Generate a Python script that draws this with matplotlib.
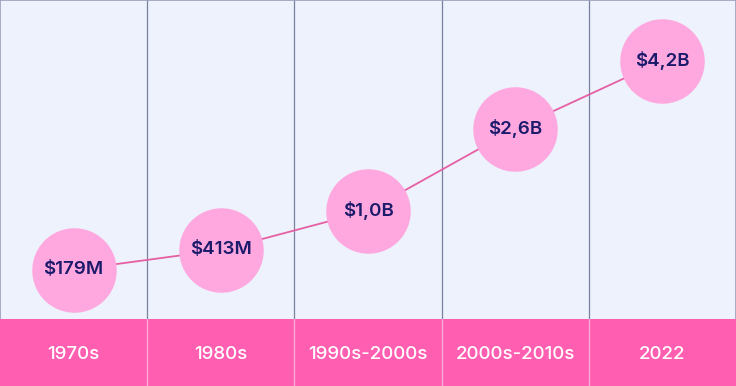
import matplotlib.pyplot as plt
import numpy as np

periodos = ["1970s", "1980s", "1990s-2000s", "2000s-2010s", "2022"]
valores = [179, 413, 1000, 2600, 4200]  # milhões de dólares
rotulos = ["$179M", "$413M", "$1,0B", "$2,6B", "$4,2B"]

fundo = "#EDF2FC"
rosa_forte = "#FF5EB1"
rosa_claro = "#FFA8DF"
azul_texto = "#1B1A6B"
linha_grade = "#7A809E"

p = 0.72
def fwd(v):
    return np.sign(v) * np.abs(v) ** p
def inv(t):
    return np.sign(t) * np.abs(t) ** (1 / p)

fig = plt.figure(figsize=(7.36, 3.86), dpi=100)
fig.patch.set_facecolor(fundo)

ax = fig.add_axes([0, 67 / 386, 1, 319 / 386])
ax.set_facecolor(fundo)
ax.set_yscale("function", functions=(fwd, inv))
ax.set_xlim(0, 5)
ax.set_ylim(-190, 5790)

x = np.arange(len(periodos)) + 0.5
ax.plot(x, valores, color="#E65FA4", lw=1.3, zorder=2)
ax.scatter(x, valores, s=3700, color=rosa_claro, zorder=3, linewidths=0)
for xi, v, r in zip(x, valores, rotulos):
    ax.text(xi, v, r, ha="center", va="center", fontsize=13.5, fontweight="semibold",
            color=azul_texto, family="Inter", zorder=4)

for xi in range(1, 5):
    ax.axvline(xi, color=linha_grade, lw=0.9, zorder=1)

ax.set_xticks([])
ax.set_yticks([])
ax.minorticks_off()
for lado in ["left", "top", "right"]:
    ax.spines[lado].set_color("#9AA0BC")
    ax.spines[lado].set_linewidth(1.2)
ax.spines["bottom"].set_visible(False)

# faixa inferior com os períodos
axb = fig.add_axes([0, 0, 1, 67 / 386])
axb.set_facecolor(rosa_forte)
axb.set_xlim(0, 5)
axb.set_ylim(0, 1)
for xi in range(1, 5):
    axb.axvline(xi, color="#FFA9D6", lw=1.0)
for xi, nome in zip(x, periodos):
    axb.text(xi, 0.47, nome, ha="center", va="center", fontsize=13.5,
             fontweight="medium", color="white", family="Inter")
axb.set_xticks([])
axb.set_yticks([])
for s in axb.spines.values():
    s.set_visible(False)

plt.savefig("out.png", dpi=100, facecolor=fundo)
plt.close()
